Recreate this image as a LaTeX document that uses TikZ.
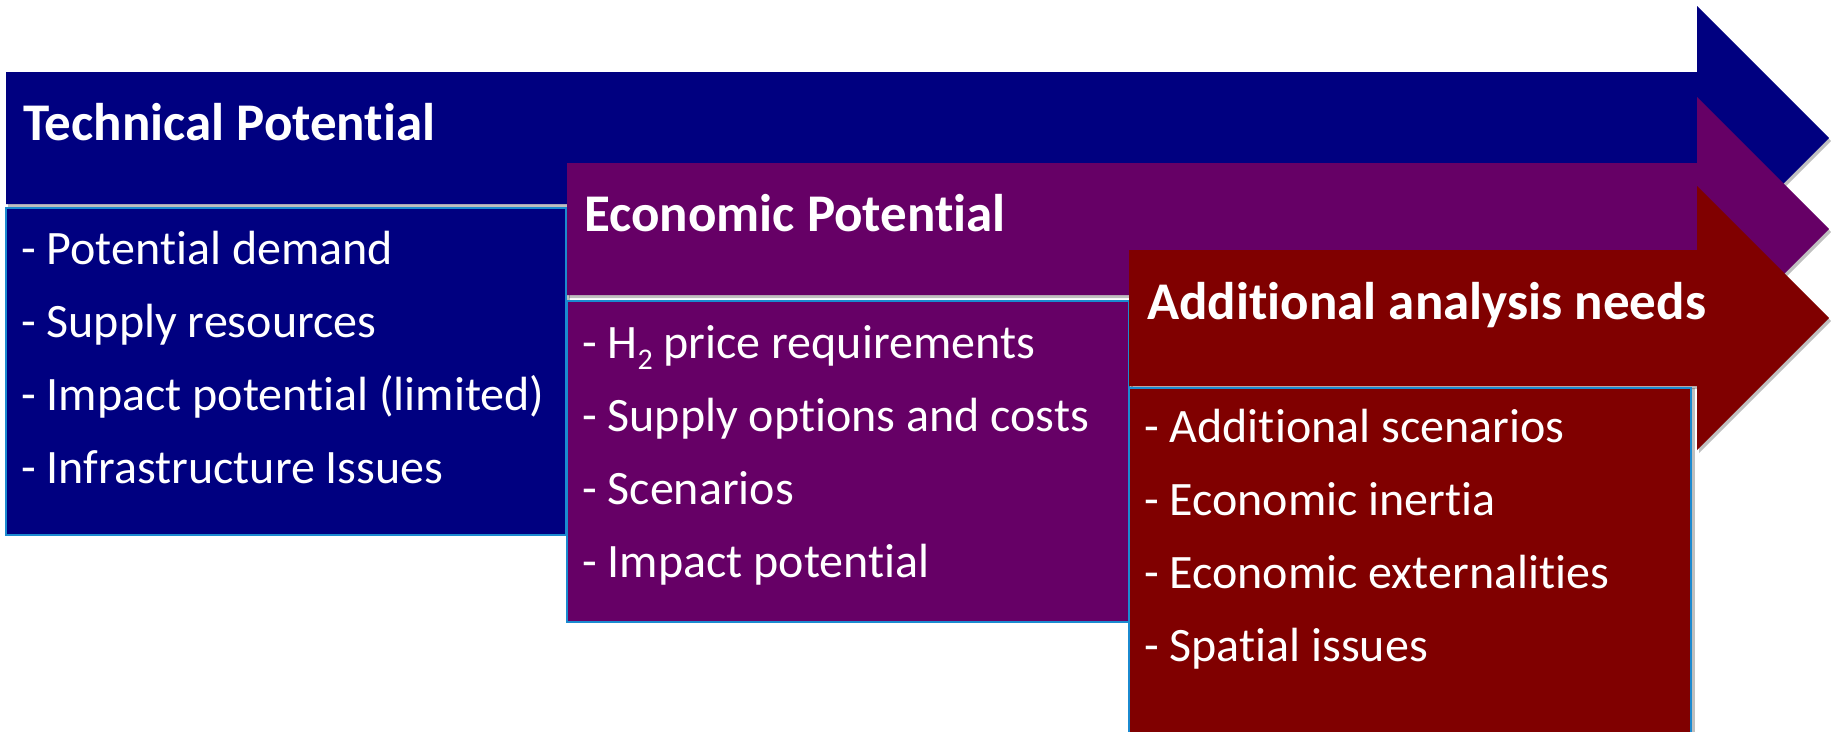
\documentclass[tikz,border=0pt]{standalone}
\usepackage{fontspec}
\setmainfont{Carlito}[Ligatures=NoCommon]
\usepackage{xcolor}
\usetikzlibrary{positioning,shadows}

\definecolor{techblue}{HTML}{000080}
\definecolor{econpurple}{HTML}{660066}
\definecolor{addred}{HTML}{800000}
\definecolor{boxedge}{HTML}{1B8AD0}

\tikzset{
  title/.style={anchor=base west, inner sep=0pt, text=white, font=\fontsize{53}{60}\selectfont\bfseries},
  item/.style={anchor=base west, inner sep=0pt, text=white, font=\fontsize{48}{56}\selectfont},
  arrowshadow/.style={drop shadow={shadow xshift=2pt, shadow yshift=-3pt, fill=black, opacity=0.25}},
  listbox/.style={draw=boxedge, line width=2pt, drop shadow={shadow xshift=4pt, shadow yshift=0pt, fill=black, opacity=0.25}}
}

\begin{document}
\begin{tikzpicture}[x=1pt,y=-1pt]
  \useasboundingbox (0,0) rectangle (1831,731);
  \clip (0,0) rectangle (1831,731);

  % technical potential
  \fill[techblue, arrowshadow] (6,72) -- (1697,72) -- (1697,6) -- (1829,138) -- (1697,270) -- (1697,204) -- (6,204) -- cycle;
  \draw[listbox, fill=techblue] (6,208) rectangle (566,535);
  \node[title] (techtitle) at (23,140) {Technical Potential};
  \foreach \txt [count=\i] in {Potential demand, Supply resources, Impact potential (limited), Infrastructure Issues}
    \node[item] (tech\i) at (21,{191+73*\i}) {- \txt};

  % economic potential
  \fill[econpurple, arrowshadow] (567,163) -- (1697,163) -- (1697,97) -- (1829,229) -- (1697,361) -- (1697,295) -- (567,295) -- cycle;
  \draw[listbox, fill=econpurple] (567,301) rectangle (1129,622);
  \node[title] (econtitle) at (584,231) {Economic Potential};
  \foreach \txt [count=\i] in {{H\raisebox{-11pt}{\fontsize{30}{30}\selectfont 2} price requirements}, Supply options and costs, Scenarios, Impact potential}
    \node[item] (econ\i) at (582,{285+73*\i}) {- \txt};

  % additional analysis
  \fill[addred, arrowshadow] (1129,250) -- (1697,250) -- (1697,186) -- (1829,318) -- (1697,450) -- (1697,386) -- (1129,386) -- cycle;
  \draw[listbox, fill=addred] (1129,388) rectangle (1691,745);
  \node[title] (addtitle) at (1147,319) {Additional analysis needs};
  \foreach \txt [count=\i] in {Additional scenarios, Economic inertia, Economic externalities, Spatial issues}
    \node[item] (add\i) at (1144,{369+73*\i}) {- \txt};
\end{tikzpicture}
\end{document}
